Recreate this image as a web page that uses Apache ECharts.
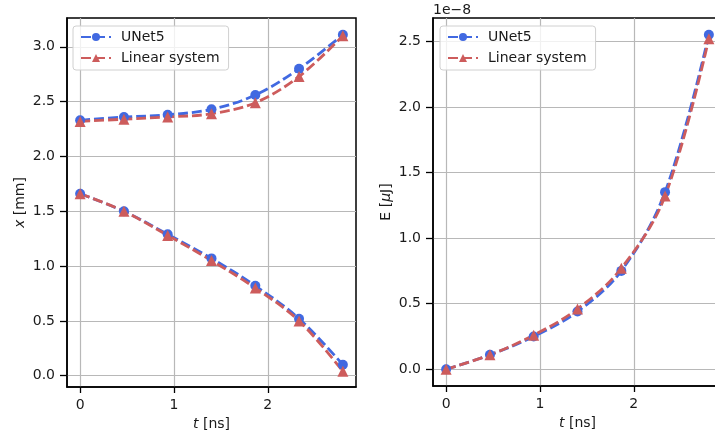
<!DOCTYPE html>
<html>
<head>
<meta charset="utf-8">
<script src="https://cdn.jsdelivr.net/npm/echarts@6/dist/echarts.min.js"></script>
<style>
html,body{margin:0;padding:0;background:#fff;}
#chart{width:715px;height:437px;}
</style>
</head>
<body>
<div id="chart"></div>
<script>
// ---- data ----
const t = [0, 0.467, 0.933, 1.4, 1.867, 2.333, 2.8];
const xUpperUNet = [2.33, 2.36, 2.38, 2.43, 2.56, 2.80, 3.11];
const xUpperLinear = [2.32, 2.34, 2.36, 2.39, 2.49, 2.73, 3.10];
const xLowerUNet = [1.66, 1.50, 1.29, 1.07, 0.82, 0.52, 0.10];
const xLowerLinear = [1.66, 1.50, 1.28, 1.05, 0.80, 0.50, 0.04];
const eUNet = [0.00, 0.11, 0.25, 0.44, 0.75, 1.35, 2.55];
const eLinear = [0.00, 0.11, 0.26, 0.46, 0.77, 1.32, 2.52];
const xTicks = [0, 1, 2];
const yTicksLeft = [0.0, 0.5, 1.0, 1.5, 2.0, 2.5, 3.0];
const yTicksRight = [0.0, 0.5, 1.0, 1.5, 2.0, 2.5];
const seriesNames = ['UNet5', 'Linear system'];

const BLUE = '#4169E1';
const RED = '#CD5C5C';
const FONT = 'DejaVu Sans';
const TXT = '#1a1a1a';
const FS = 14;

function pairs(xs, ys) { return xs.map((x, i) => [x, ys[i]]); }

function mkSeries(name, data, color, symbol, size, xi) {
  return {
    type: 'line', name: name, xAxisIndex: xi, yAxisIndex: xi,
    data: data, smooth: 0.35, symbol: symbol, symbolSize: size,
    showAllSymbol: true, clip: false,
    lineStyle: { color: color, width: 2.8, type: [10, 4] },
    itemStyle: { color: color, borderWidth: 0 },
    emphasis: { disabled: true }, animation: false
  };
}

function xAxisOpt(gi) {
  return {
    type: 'value', gridIndex: gi, min: -0.14, max: 2.94,
    name: '{i|t} [ns]', nameLocation: 'middle', nameGap: 30,
    nameTextStyle: { fontFamily: FONT, fontSize: FS, color: TXT,
      rich: { i: { fontStyle: 'italic', fontFamily: FONT, fontSize: FS, color: TXT } } },
    axisLine: { show: true, onZero: false, lineStyle: { color: '#000', width: 1.5 } },
    axisTick: { show: true, length: 6, lineStyle: { color: '#000', width: 1.3 }, customValues: xTicks },
    axisLabel: { fontFamily: FONT, fontSize: FS, color: TXT, margin: 11, customValues: xTicks,
      formatter: v => String(Math.round(v)) },
    splitLine: { show: true, lineStyle: { color: '#b8b8b8', width: 1.2 }, customValues: xTicks }
  };
}

function yAxisOpt(gi, min, max, ticks, name, gap) {
  return {
    type: 'value', gridIndex: gi, min: min, max: max,
    name: name, nameLocation: 'middle', nameGap: gap, nameRotate: 90,
    nameTextStyle: { fontFamily: FONT, fontSize: FS, color: TXT,
      rich: { i: { fontStyle: 'italic', fontFamily: FONT, fontSize: FS, color: TXT } } },
    axisLine: { show: true, onZero: false, lineStyle: { color: '#000', width: 1.5 } },
    axisTick: { show: true, length: 7, lineStyle: { color: '#000', width: 1.3 }, customValues: ticks },
    axisLabel: { fontFamily: FONT, fontSize: FS, color: TXT, margin: 12, customValues: ticks,
      formatter: v => v.toFixed(1) },
    splitLine: { show: true, lineStyle: { color: '#b8b8b8', width: 1.2 }, customValues: ticks }
  };
}

function legendOpt(left) {
  return {
    orient: 'vertical', left: left, top: 26, itemWidth: 30, itemHeight: 10, itemGap: 7,
    padding: [4, 9, 5, 7],
    backgroundColor: 'rgba(255,255,255,0.8)', borderColor: '#d0d0d0', borderWidth: 1, borderRadius: 3,
    textStyle: { fontFamily: FONT, fontSize: FS, color: TXT, padding: [0, 0, 0, 5] },
    data: seriesNames, selectedMode: false
  };
}

const chart = echarts.init(document.getElementById('chart'), null, { renderer: 'canvas' });
chart.setOption({
  animation: false,
  backgroundColor: '#fff',
  grid: [
    { left: 67, top: 18, width: 289, height: 369, show: true, borderColor: '#000', borderWidth: 1.5,
      containLabel: false, outerBoundsMode: 'none' },
    { left: 433, top: 18, width: 289, height: 368, show: true, borderColor: '#000', borderWidth: 1.5,
      containLabel: false, outerBoundsMode: 'none' }
  ],
  xAxis: [xAxisOpt(0), xAxisOpt(1)],
  yAxis: [
    yAxisOpt(0, -0.103, 3.263, yTicksLeft, '{i|x} [mm]', 40),
    yAxisOpt(1, -0.1275, 2.6775, yTicksRight, 'E [{i|μ}J]', 40)
  ],
  legend: [legendOpt(73), legendOpt(440)],
  graphic: [{ type: 'text', left: 433, top: 3,
    style: { text: '1e\u22128', fontFamily: FONT, fontSize: FS, fill: TXT } }],
  series: [
    mkSeries(seriesNames[0], pairs(t, xUpperUNet), BLUE, 'circle', 10, 0),
    mkSeries(seriesNames[0], pairs(t, xLowerUNet), BLUE, 'circle', 10, 0),
    mkSeries(seriesNames[1], pairs(t, xUpperLinear), RED, 'triangle', 11, 0),
    mkSeries(seriesNames[1], pairs(t, xLowerLinear), RED, 'triangle', 11, 0),
    mkSeries(seriesNames[0], pairs(t, eUNet), BLUE, 'circle', 10, 1),
    mkSeries(seriesNames[1], pairs(t, eLinear), RED, 'triangle', 11, 1)
  ]
});
</script>
</body>
</html>
